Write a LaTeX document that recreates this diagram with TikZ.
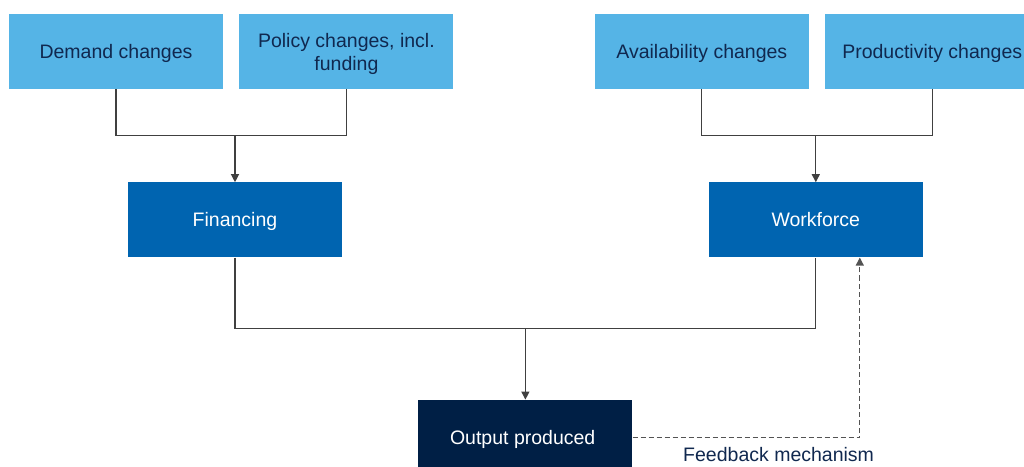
\documentclass[tikz,border=0pt]{standalone}
\usepackage{fontspec}
\setmainfont{Liberation Sans}
\usetikzlibrary{
  arrows.meta,
  calc,
  positioning
}
\definecolor{sky}{HTML}{55B4E6}
\definecolor{midblue}{HTML}{0064B0}
\definecolor{navy}{HTML}{001F45}
\definecolor{inktext}{HTML}{10284F}
\definecolor{wire}{HTML}{404040}
\tikzset{
  box/.style={
    minimum width=214pt,
    minimum height=75pt,
    inner sep=0pt,
    text depth=0pt,
    align=center,
    font=\fontsize{19.5pt}{23pt}\selectfont
  },
  driver/.style={
    box,
    fill=sky,
    text=inktext
  },
  factor/.style={
    box,
    fill=midblue,
    text=white
  },
  result/.style={
    box,
    fill=navy,
    text=white
  },
  wireline/.style={
    draw=wire,
    line width=1.2pt
  },
  wirearrow/.style={
    wireline,
    -{Triangle[length=8pt,width=8pt]}
  },
  feedback/.style={
    draw=wire!90,
    line width=1.2pt,
    dash pattern=on 5pt off 3pt,
    -{Triangle[length=8pt,width=8pt]}
  },
  fblabel/.style={
    text=inktext,
    inner sep=0pt,
    font=\fontsize{19.5pt}{23pt}\selectfont
  }
}

\begin{document}
\begin{tikzpicture}
  \clip (0,0) rectangle (1024pt,466pt);

  % Drivers of financing.
  \node[driver] (demand) at (116pt,414.5pt) {Demand changes};
  \node[driver, right=16pt of demand] (policy) {
    Policy changes, incl.\\
    funding
  };

  % Drivers of workforce.
  \node[driver, right=141pt of policy] (avail) {Availability changes};
  \node[driver, right=16pt of avail] (prod) {Productivity changes};

  % Middle row.
  \node[factor, below=93pt of demand, xshift=119pt] (financing) {Financing};
  \node[factor, below=93pt of avail, xshift=114pt] (workforce) {Workforce};

  % Result.
  \coordinate (midpoint) at ($(financing.south)!0.5!(workforce.south)$);
  \node[result, below=142pt of midpoint, anchor=north] (output) {
    Output produced
  };

  % Joins.
  \coordinate (finjoin) at ($(financing.north)+(0,47pt)$);
  \coordinate (wfjoin) at ($(workforce.north)+(0,47pt)$);
  \coordinate (outjoin) at ($(output.north)+(0,71pt)$);
  \draw[wireline] (demand.south) |- (finjoin) -| (policy.south);
  \draw[wirearrow] (finjoin) -- (financing.north);
  \draw[wireline] (avail.south) |- (wfjoin) -| (prod.south);
  \draw[wirearrow] (wfjoin) -- (workforce.north);
  \draw[wireline] (financing.south) |- (outjoin) -| (workforce.south);
  \draw[wirearrow] (outjoin) -- (output.north);

  % Feedback loop.
  \coordinate (fbend) at ($(workforce.south)+(44pt,0)$);
  \draw[feedback] (output.east) -| (fbend);
  \node[fblabel] (fbtext) at ($(output.east)+(146pt,-17.5pt)$) {
    Feedback mechanism
  };
\end{tikzpicture}
\end{document}
